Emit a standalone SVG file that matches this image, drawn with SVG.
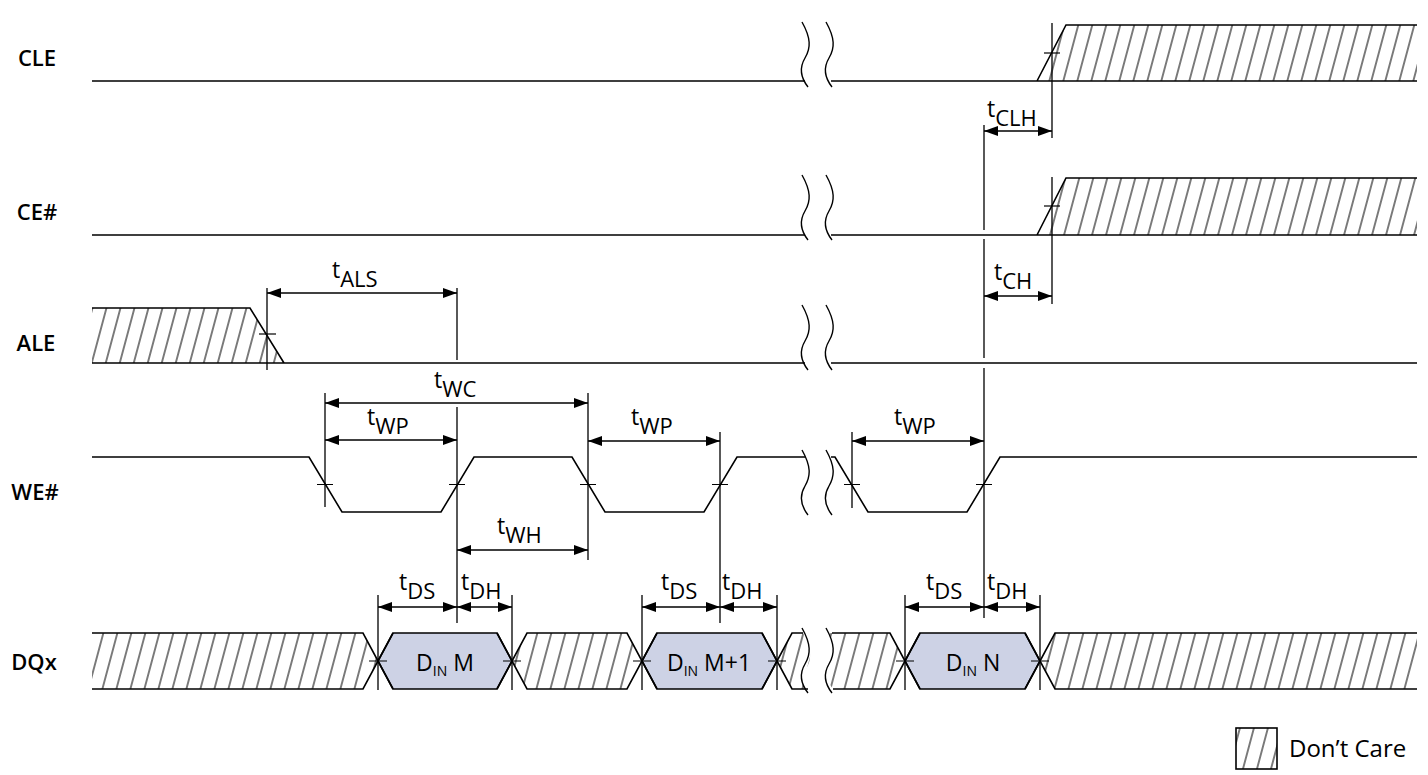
<svg xmlns="http://www.w3.org/2000/svg" width="1428" height="775" viewBox="0 0 1428 775">
<style>
.sig{fill:none;stroke:#000;stroke-width:1.6;stroke-linejoin:miter}
.dim{fill:none;stroke:#000;stroke-width:1.3}
.arr{fill:none;stroke:#000;stroke-width:1.3;marker-start:url(#ah);marker-end:url(#ah)}
.tick{fill:none;stroke:#000;stroke-width:1.2}
.brk{fill:none;stroke:#000;stroke-width:1.4}
.lbl{font-family:"Open Sans","Noto Sans",sans-serif;font-size:22px;font-weight:600;fill:#000;text-anchor:middle}
.t{font-family:"Open Sans","Noto Sans",sans-serif;font-size:23px;fill:#000}
.s{font-size:22px}
.lg{font-family:"Open Sans","Noto Sans",sans-serif;font-size:24px;fill:#000}
.dt{font-family:"Open Sans","Noto Sans",sans-serif;font-size:23px;fill:#000;text-anchor:middle}
.ds{font-size:14px}
.hat{fill:url(#hatch);stroke:none}
.box{fill:#CDD2E5;stroke:#000;stroke-width:1.6}
</style>
<defs>
<pattern id="hatch" patternUnits="userSpaceOnUse" width="14" height="20" patternTransform="skewX(-15)">
<line x1="7" y1="-2" x2="7" y2="22" stroke="#000" stroke-width="1.05"/>
</pattern>
<marker id="ah" viewBox="0 0 14 10" refX="14" refY="5" markerWidth="14" markerHeight="10" markerUnits="userSpaceOnUse" orient="auto-start-reverse">
<path d="M0,0 L14,5 L0,10 z" fill="#000"/>
</marker>
<path id="sq" d="M0,0 C9,16 9,26 3,36 C-3,46 -1,56 6,65" class="brk"/>
</defs>

<g id="labels">
<text class="lbl" x="37" y="66">CLE</text>
<text class="lbl" x="37" y="220">CE#</text>
<text class="lbl" x="36" y="351">ALE</text>
<text class="lbl" x="35" y="500">WE#</text>
<text class="lbl" x="34" y="670">DQx</text>
</g>

<g id="CLE">
<polygon class="hat" points="1037,81 1066,25 1417,25 1417,81"/>
<path class="sig" d="M92,81 H805 M831,81 H1417 M1037,81 L1066,25 H1417"/>
<line class="tick" x1="1044" y1="53" x2="1060" y2="53"/>
<use href="#sq" x="802" y="22"/>
<use href="#sq" x="826" y="22"/>
</g>

<g id="CE">
<polygon class="hat" points="1037,235 1066,178 1417,178 1417,235"/>
<path class="sig" d="M92,235 H805 M831,235 H1417 M1037,235 L1066,178 H1417"/>
<line class="tick" x1="1044" y1="206" x2="1060" y2="206"/>
<use href="#sq" x="802" y="175"/>
<use href="#sq" x="826" y="175"/>
</g>

<g id="ALE">
<polygon class="hat" points="92,308 250,308 284,363 92,363"/>
<path class="sig" d="M92,308 H250 L284,363 M92,363 H805 M831,363 H1417"/>
<line class="tick" x1="259" y1="334" x2="276" y2="334"/>
<use href="#sq" x="802" y="305"/>
<use href="#sq" x="826" y="305"/>
</g>

<g id="WE">
<path class="sig" d="M92,457 H309 L342,512 H441 L474,457 H572 L605,512 H704 L737,457 H805 M831,457 H835 L868,512 H967 L1000,457 H1417"/>
<path class="tick" d="M317,484.5 H333 M449,484.5 H465 M580,484.5 H596 M712,484.5 H728 M844,484.5 H860 M976,484.5 H992"/>
<use href="#sq" x="802" y="450"/>
<use href="#sq" x="826" y="450"/>
</g>

<g id="DQx">
<polygon class="hat" points="92,633 363,633 378,661 363,689 92,689"/>
<polygon class="hat" points="512,661 527,633 627,633 642,661 627,689 527,689"/>
<path class="hat" d="M777,661 L792,633 H803 C812,649 812,659 806,669 C800,679 802,689 809,689 H792 Z"/>
<path class="hat" d="M827,633 H890 L905,661 L890,689 H833 C826,680 824,670 830,660 C836,650 836,642 827,633 Z"/>
<polygon class="hat" points="1040,661 1055,633 1417,633 1417,689 1055,689"/>
<polygon class="box" points="378,661 393,633 497,633 512,661 497,689 393,689"/>
<polygon class="box" points="642,661 657,633 762,633 777,661 762,689 657,689"/>
<polygon class="box" points="905,661 920,633 1025,633 1040,661 1025,689 920,689"/>
<path class="sig" d="M92,633 H363 L393,689 M92,689 H363 L393,633 M497,633 L527,689 H627 L657,633 M497,689 L527,633 H627 L657,689 M762,633 L792,689 H808 M762,689 L792,633 H803 M832,633 H890 L920,689 M833,689 H890 L920,633 M1025,633 L1055,689 H1417 M1025,689 L1055,633 H1417"/>
<path class="tick" d="M369,661 H387 M503,661 H521 M633,661 H651 M768,661 H786 M896,661 H914 M1031,661 H1049"/>
<use href="#sq" x="802" y="628"/>
<use href="#sq" x="826" y="628"/>
<text class="dt" x="445" y="671">D<tspan class="ds" dy="5">IN</tspan><tspan dy="-5"> M</tspan></text>
<text class="dt" x="709" y="671">D<tspan class="ds" dy="5">IN</tspan><tspan dy="-5"> M+1</tspan></text>
<text class="dt" x="973" y="671">D<tspan class="ds" dy="5">IN</tspan><tspan dy="-5"> N</tspan></text>
</g>

<g id="legend">
<rect x="1236" y="728" width="41" height="41" fill="url(#hatch)" stroke="#000" stroke-width="1.6"/>
<text class="lg" x="1289" y="757">Don’t Care</text>
</g>

<g id="connectors">
<path class="dim" d="M1052,23 V138 M1052,177 V304 M984,125 V230 M984,239 V358 M984,368 V618 M267,288 V370 M457,288 V360 M325,393 V507 M588,393 V560 M457,407 V623 M720,432 V623 M852,432 V508 M378,595 V690 M512,595 V690 M642,595 V690 M777,595 V690 M905,595 V690 M1040,595 V690"/>
<line class="arr" x1="984" y1="131" x2="1052" y2="131"/>
<line class="arr" x1="984" y1="296" x2="1052" y2="296"/>
<line class="arr" x1="267" y1="293" x2="457" y2="293"/>
<line class="arr" x1="325" y1="403" x2="588" y2="403"/>
<line class="arr" x1="325" y1="440" x2="457" y2="440"/>
<line class="arr" x1="457" y1="550" x2="588" y2="550"/>
<line class="arr" x1="588" y1="441" x2="720" y2="441"/>
<line class="arr" x1="852" y1="441" x2="984" y2="441"/>
<line class="arr" x1="378" y1="607" x2="457" y2="607"/>
<line class="arr" x1="457" y1="607" x2="512" y2="607"/>
<line class="arr" x1="642" y1="607" x2="720" y2="607"/>
<line class="arr" x1="720" y1="607" x2="777" y2="607"/>
<line class="arr" x1="905" y1="607" x2="984" y2="607"/>
<line class="arr" x1="984" y1="607" x2="1040" y2="607"/>
</g>

<g id="timing-labels">
<text class="t" x="987" y="117">t<tspan class="s" dy="9">CLH</tspan></text>
<text class="t" x="994" y="280">t<tspan class="s" dy="9">CH</tspan></text>
<text class="t" x="332" y="278">t<tspan class="s" dy="9">ALS</tspan></text>
<text class="t" x="434" y="388">t<tspan class="s" dy="9">WC</tspan></text>
<text class="t" x="367" y="425">t<tspan class="s" dy="9">WP</tspan></text>
<text class="t" x="631" y="425">t<tspan class="s" dy="9">WP</tspan></text>
<text class="t" x="894" y="425">t<tspan class="s" dy="9">WP</tspan></text>
<text class="t" x="497" y="534">t<tspan class="s" dy="9">WH</tspan></text>
<text class="t" x="399" y="590">t<tspan class="s" dy="9">DS</tspan></text>
<text class="t" x="461" y="590">t<tspan class="s" dy="9">DH</tspan></text>
<text class="t" x="661" y="590">t<tspan class="s" dy="9">DS</tspan></text>
<text class="t" x="722" y="590">t<tspan class="s" dy="9">DH</tspan></text>
<text class="t" x="926" y="590">t<tspan class="s" dy="9">DS</tspan></text>
<text class="t" x="987" y="590">t<tspan class="s" dy="9">DH</tspan></text>
</g>
</svg>
